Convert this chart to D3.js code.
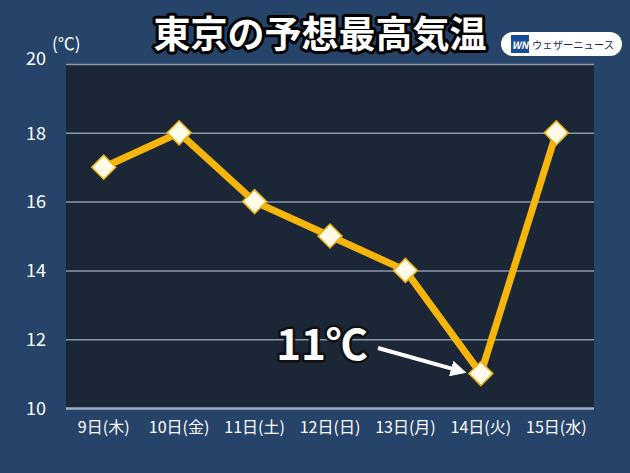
<!DOCTYPE html>
<html><head><meta charset="utf-8">
<script src="https://cdn.jsdelivr.net/npm/d3@7"></script>
<style>body{margin:0;background:#264469;}svg{display:block;}</style>
</head><body>
<script>
const categories = ["9日(木)","10日(金)","11日(土)","12日(日)","13日(月)","14日(火)","15日(水)"];
const temps = [17,18,16,15,14,11,18];
const yTicks = [10,12,14,16,18,20];
const title = "東京の予想最高気温";
const unitLabel = "(℃)";
const annotation = "11℃";
const annotationIndex = 5;

const W=630,H=473;
const m={left:66,right:36,top:64,bottom:65};
const svg=d3.select("body").append("svg").attr("width",W).attr("height",H);
svg.append("rect").attr("width",W).attr("height",H).attr("fill","#264469");

const x=d3.scaleBand().domain(categories).range([m.left,W-m.right]).padding(0);
const y=d3.scaleLinear().domain([10,20]).range([H-m.bottom,m.top]);
const font="'Noto Sans CJK JP','Noto Sans',sans-serif";

svg.append("rect").attr("x",m.left).attr("y",y(20)).attr("width",W-m.right-m.left)
  .attr("height",y(10)-y(20)).attr("fill","#1b2637");

// grid
const grid=svg.append("g").attr("transform",`translate(${m.left},0)`)
  .call(d3.axisLeft(y).tickValues(yTicks).tickSize(-(W-m.right-m.left)).tickFormat(""));
grid.select(".domain").remove();
grid.selectAll("line").attr("stroke","#8a98ab").attr("stroke-width",1.5);
grid.selectAll(".tick").filter(d=>d===10).select("line").attr("stroke","#9fb0c4").attr("stroke-width",2.5);

// y labels
const ya=svg.append("g").attr("transform",`translate(${m.left},0)`)
  .call(d3.axisLeft(y).tickValues(yTicks).tickSize(0).tickPadding(20));
ya.select(".domain").remove();
ya.selectAll("text").attr("fill","#fff").attr("font-size",18).attr("font-family",font).attr("dy","0.35em");
ya.selectAll(".tick").filter(d=>d===20).select("text").attr("dy","0.05em");
svg.append("text").attr("x",52).attr("y",50).attr("fill","#fff").attr("font-size",17)
  .attr("font-family",font).text(unitLabel);

// x labels
const xa=svg.append("g").attr("transform",`translate(0,${y(10)})`)
  .call(d3.axisBottom(x).tickSize(0).tickPadding(14));
xa.select(".domain").remove();
xa.selectAll("text").attr("fill","#fff").attr("font-size",16).attr("font-family",font);

// line
const line=d3.line().x((d,i)=>x(categories[i])+x.bandwidth()/2).y(d=>y(d));
svg.append("path").datum(temps).attr("d",line).attr("fill","none")
  .attr("stroke","#f5b50a").attr("stroke-width",7).attr("stroke-linejoin","round");

// markers
svg.selectAll(".mk").data(temps).enter().append("rect")
  .attr("x",-8.5).attr("y",-8.5).attr("width",17).attr("height",17)
  .attr("transform",(d,i)=>`translate(${x(categories[i])+x.bandwidth()/2},${y(d)}) rotate(45)`)
  .attr("fill","#fffbe8").attr("stroke","#e8b00c").attr("stroke-width",1.5);

// annotation
const ax=x(categories[annotationIndex])+x.bandwidth()/2, ay=y(temps[annotationIndex]);
svg.append("text").attr("x",322).attr("y",360).attr("text-anchor","middle")
  .attr("font-size",42).attr("font-weight","bold").attr("font-family",font)
  .attr("fill","#fff").attr("stroke","#111").attr("stroke-width",5).attr("paint-order","stroke")
  .attr("stroke-linejoin","round").text(annotation);
svg.append("defs").append("marker").attr("id","ah").attr("viewBox","0 0 10 10").attr("refX",5).attr("refY",5)
  .attr("markerWidth",4).attr("markerHeight",4).attr("orient","auto")
  .append("path").attr("d","M0,0L10,5L0,10z").attr("fill","#fff");
svg.append("line").attr("x1",378).attr("y1",348).attr("x2",ax-22).attr("y2",ay-3)
  .attr("stroke","#fff").attr("stroke-width",4).attr("marker-end","url(#ah)");

// title
svg.append("text").attr("x",320).attr("y",48).attr("text-anchor","middle")
  .attr("font-size",37).attr("font-weight","bold").attr("font-family",font)
  .attr("fill","#fff").attr("stroke","#000").attr("stroke-width",6).attr("paint-order","stroke")
  .attr("stroke-linejoin","round").text(title);

// logo
const lg=svg.append("g");
lg.append("rect").attr("x",501).attr("y",32).attr("width",121).attr("height",24).attr("rx",12).attr("fill","#fff");
lg.append("rect").attr("x",511).attr("y",35).attr("width",18).attr("height",18).attr("fill","#1a4a9a");
lg.append("text").attr("x",520).attr("y",49).attr("text-anchor","middle").attr("font-size",10)
  .attr("font-weight","bold").attr("font-style","italic").attr("font-family",font).attr("fill","#fff").text("WN");
lg.append("text").attr("x",532).attr("y",48.5).attr("font-size",10.5).attr("font-family",font)
  .attr("textLength",82).attr("lengthAdjust","spacingAndGlyphs")
  .attr("fill","#1a2a55").text("ウェザーニュース");
</script>
</body></html>
